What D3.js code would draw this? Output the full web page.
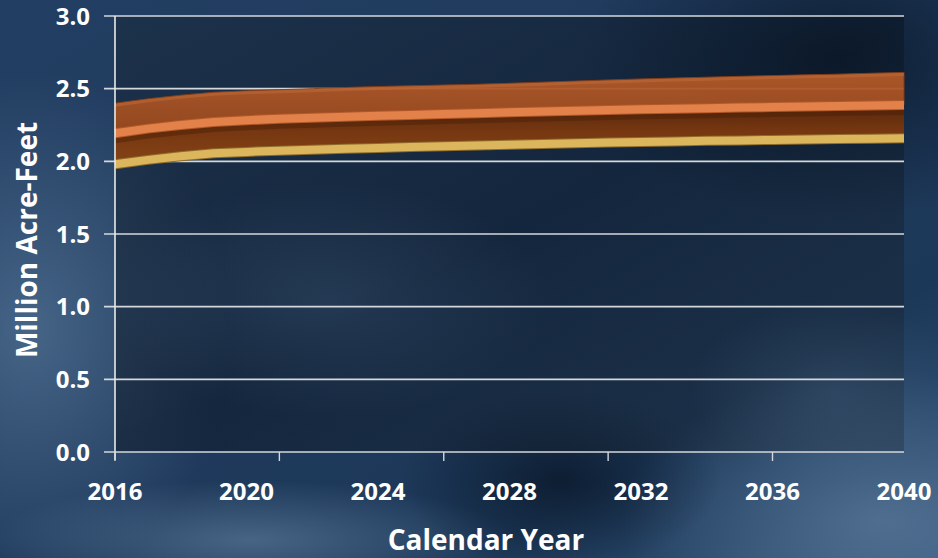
<!DOCTYPE html>
<html><head><meta charset="utf-8">
<script src="https://cdn.jsdelivr.net/npm/d3@7"></script>
<style>html,body{margin:0;padding:0;background:#1d3554;overflow:hidden}svg{display:block}</style>
</head><body><svg id="c" width="938" height="558"></svg>
<script>
const years = d3.range(2016, 2041);
const highValues = [2.40,2.43,2.455,2.475,2.485,2.493,2.50,2.508,2.515,2.52,2.525,2.53,2.537,2.545,2.552,2.56,2.567,2.573,2.579,2.585,2.59,2.595,2.60,2.606,2.612];
const midValues  = [2.193,2.225,2.25,2.27,2.283,2.293,2.30,2.307,2.313,2.319,2.325,2.331,2.337,2.343,2.348,2.353,2.358,2.362,2.366,2.37,2.374,2.378,2.381,2.385,2.388];
const lowValues  = [1.98,2.01,2.035,2.055,2.065,2.073,2.08,2.086,2.092,2.098,2.104,2.109,2.114,2.119,2.124,2.129,2.133,2.137,2.141,2.144,2.147,2.150,2.153,2.156,2.159];
const yTicks = [0,0.5,1.0,1.5,2.0,2.5,3.0];
const xLabelYears = [2016,2020,2024,2028,2032,2036,2040];
const xTickYears = [2016,2021,2026,2031,2036];

const data = years.map((y,i)=>({year:y, high:highValues[i], mid:midValues[i], low:lowValues[i]}));
const svg = d3.select('#c');
const W=938,H=558, L=115, R=904, T=16, B=452;
const x = d3.scaleLinear().domain([2016,2040]).range([L,R]);
const y = d3.scaleLinear().domain([0,3]).range([B,T]);
const font = "'Open Sans', 'DejaVu Sans', sans-serif";

const defs = svg.append('defs');
const bg = defs.append('linearGradient').attr('id','bg').attr('x1',0).attr('y1',0).attr('x2',1).attr('y2',1);
bg.append('stop').attr('offset','0').attr('stop-color','#223e62');
bg.append('stop').attr('offset','0.45').attr('stop-color','#1f3a5c');
bg.append('stop').attr('offset','0.75').attr('stop-color','#1c3858');
bg.append('stop').attr('offset','1').attr('stop-color','#34557a');
function radial(id, color, op){
  const g = defs.append('radialGradient').attr('id',id);
  g.append('stop').attr('offset','0').attr('stop-color',color).attr('stop-opacity',op);
  g.append('stop').attr('offset','1').attr('stop-color',color).attr('stop-opacity',0);
}
radial('rl','#5f80a2',0.6);
radial('rd','#06101f',0.65);
radial('rb','#6a88a8',0.55);
const pg = defs.append('linearGradient').attr('id','pg').attr('x1',0).attr('y1',0).attr('x2',1).attr('y2',1);
pg.append('stop').attr('offset','0').attr('stop-color','#16222f').attr('stop-opacity',0.45);
pg.append('stop').attr('offset','0.5').attr('stop-color','#08121e').attr('stop-opacity',0.5);
pg.append('stop').attr('offset','1').attr('stop-color','#202c3a').attr('stop-opacity',0.4);

const ug = defs.append('linearGradient').attr('id','ug').attr('x1',0).attr('y1',0).attr('x2',0).attr('y2',1);
ug.append('stop').attr('offset','0').attr('stop-color','#b45b2a');
ug.append('stop').attr('offset','1').attr('stop-color','#9a481b');
const lg = defs.append('linearGradient').attr('id','lg').attr('x1',0).attr('y1',0).attr('x2',0).attr('y2',1);
lg.append('stop').attr('offset','0').attr('stop-color','#5c280b');
lg.append('stop').attr('offset','0.45').attr('stop-color','#7a380f');
lg.append('stop').attr('offset','1').attr('stop-color','#8a4313');

svg.append('rect').attr('width',W).attr('height',H).attr('fill','url(#bg)');
svg.append('ellipse').attr('cx',30).attr('cy',330).attr('rx',200).attr('ry',260).attr('fill','url(#rl)');
svg.append('ellipse').attr('cx',880).attr('cy',520).attr('rx',260).attr('ry',150).attr('fill','url(#rb)');
svg.append('ellipse').attr('cx',250).attr('cy',540).attr('rx',260).attr('ry',60).attr('fill','url(#rb)');
svg.append('ellipse').attr('cx',840).attr('cy',60).attr('rx',260).attr('ry',160).attr('fill','url(#rd)');
svg.append('ellipse').attr('cx',560).attr('cy',480).attr('rx',160).attr('ry',90).attr('fill','url(#rd)');

svg.append('rect').attr('x',L).attr('y',T).attr('width',R-L).attr('height',B-T).attr('fill','url(#pg)');
svg.append('ellipse').attr('cx',330).attr('cy',300).attr('rx',220).attr('ry',120).attr('fill','url(#rl)').attr('opacity',0.35);
svg.append('ellipse').attr('cx',830).attr('cy',390).attr('rx',140).attr('ry',90).attr('fill','url(#rl)').attr('opacity',0.35);

svg.append('g').selectAll('line').data(yTicks.filter(d=>d>0)).join('line')
  .attr('x1',L-11).attr('x2',R).attr('y1',d=>y(d)).attr('y2',d=>y(d))
  .attr('stroke','#d4d8dc').attr('stroke-width',1.6);

const upper = d3.area().x(d=>x(d.year)).y0(d=>y(d.mid)).y1(d=>y(d.high));
const lower = d3.area().x(d=>x(d.year)).y0(d=>y(d.low)).y1(d=>y(d.mid));
svg.append('path').datum(data).attr('d',upper).attr('fill','url(#ug)').attr('opacity',0.94)
  .attr('stroke','#8a3f17').attr('stroke-width',1);
svg.append('path').datum(data).attr('d',lower).attr('fill','url(#lg)').attr('opacity',0.96);

const line = key => d3.line().x(d=>x(d.year)).y(d=>y(d[key]));
svg.append('path').datum(data).attr('d',d3.line().x(d=>x(d.year)).y(d=>y(d.mid)+7)).attr('fill','none')
  .attr('stroke','#4a1f06').attr('stroke-width',6).attr('opacity',0.45);
svg.append('path').datum(data).attr('d',d3.line().x(d=>x(d.year)).y(d=>y(d.high)+2)).attr('fill','none')
  .attr('stroke','#c06a38').attr('stroke-width',3).attr('opacity',0.55);

svg.append('path').datum(data).attr('d',line('mid')).attr('fill','none')
  .attr('stroke','#b2592a').attr('stroke-width',10);
svg.append('path').datum(data).attr('d',line('mid')).attr('fill','none')
  .attr('stroke','#e3814a').attr('stroke-width',8);
svg.append('path').datum(data).attr('d',line('low')).attr('fill','none')
  .attr('stroke','#8f6c2a').attr('stroke-width',10);
svg.append('path').datum(data).attr('d',line('low')).attr('fill','none')
  .attr('stroke','#dcb65d').attr('stroke-width',8);

svg.append('line').attr('x1',L).attr('x2',L).attr('y1',T).attr('y2',B+8).attr('stroke','#e8eaec').attr('stroke-width',1.6);
svg.append('line').attr('x1',L-11).attr('x2',R).attr('y1',B).attr('y2',B).attr('stroke','#d4d8dc').attr('stroke-width',1.6);
svg.append('g').selectAll('line').data(xTickYears).join('line')
  .attr('x1',d=>x(d)).attr('x2',d=>x(d)).attr('y1',B).attr('y2',B+9)
  .attr('stroke','#d4d8dc').attr('stroke-width',1.4);

svg.append('g').selectAll('text').data(yTicks).join('text')
  .attr('x',90).attr('y',d=>y(d)).attr('dy','0.36em').attr('text-anchor','end')
  .attr('fill','#ffffff').attr('font-family',font).attr('font-weight',700).attr('font-size',24)
  .text(d=>d.toFixed(1));
svg.append('g').selectAll('text').data(xLabelYears).join('text')
  .attr('x',d=>x(d)).attr('y',491).attr('dy','0.36em').attr('text-anchor','middle')
  .attr('fill','#ffffff').attr('font-family',font).attr('font-weight',700).attr('font-size',24)
  .text(d=>d);

svg.append('text').attr('x',486).attr('y',540).attr('dy','0.36em').attr('text-anchor','middle')
  .attr('fill','#ffffff').attr('font-family',font).attr('font-weight',700).attr('font-size',28)
  .text('Calendar Year');
svg.append('text').attr('transform','translate(27,240) rotate(-90)').attr('dy','0.36em').attr('text-anchor','middle')
  .attr('fill','#ffffff').attr('font-family',font).attr('font-weight',700).attr('font-size',28)
  .text('Million Acre-Feet');
</script></body></html>
